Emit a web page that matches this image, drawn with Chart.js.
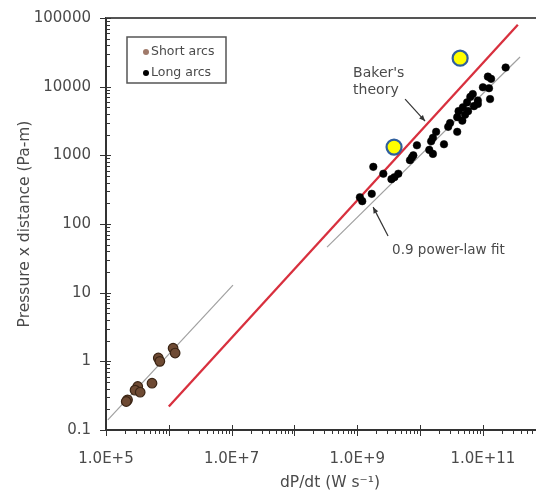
<!DOCTYPE html>
<html><head><meta charset="utf-8">
<script src="https://cdn.jsdelivr.net/npm/chart.js@4.4.0/dist/chart.umd.min.js"></script>
<style>html,body{margin:0;padding:0;background:#fff}</style>
</head><body>
<canvas id="c" width="536" height="493"></canvas>
<script>
// ---- data ----
const longX = [2.3e11,1.2e11,1.35e11,1.0e11,1.25e11,1.3e11,6.9e10,6.3e10,5.6e10,7.2e10,4.8e10,4.1e10,5.8e10,5.2e10,3.9e10,3.0e10,2.8e10,3.9e10,1.8e10,1.6e10,1.5e10,1.4e10,1.6e10,2.4e10,8.9e9,7.8e9,6.9e9,4.5e9,3.9e9,3.5e9,2.6e9,1.8e9,1.1e9,1.2e9,1.7e9,4.7e10,8.3e10,7.4e9,8.3e10];
const longY = [19000,14000,13000,9800,9500,6600,7800,7100,5900,5200,5000,4400,4400,3900,3600,2950,2600,2200,2200,1800,1600,1200,1050,1450,1400,1000,850,540,480,450,540,680,245,215,275,3200,6300,930,5600];
const shortX = [1.17e6,1.26e6,6.8e5,7.2e5,5.4e5,3.2e5,2.9e5,3.5e5,2.2e5,2.1e5];
const shortY = [1.55,1.32,1.12,1.0,0.48,0.43,0.38,0.355,0.275,0.26];
const highlightX = [3.85e9,4.34e10];
const highlightY = [1318,26000];
const bakerX = [1e6,3.6e11];
const bakerY = [0.22,80000];
const shortFitX = [1.07e5,1.05e7];
const shortFitY = [0.14,12.9];
const longFitX = [3.3e8,3.9e11];
const longFitY = [46,27000];
const xTickValues = [1e5,1e7,1e9,1e11];
const xTickLabels = ['1.0E+5','1.0E+7','1.0E+9','1.0E+11'];
const yTickValues = [0.1,1,10,100,1000,10000,100000];
const yTickLabels = ['0.1','1','10','100','1000','10000','100000'];
const legendLabels = ['Short arcs','Long arcs'];
const xTitle = 'dP/dt (W s\u207B\u00B9)';
const yTitle = 'Pressure x distance (Pa-m)';
// annotation anchors in data units: [tailX, tailY, tipX, tipY]
const bakerArrow = [5.77e9, 6580, 1.2e10, 3150];
const fitArrow = [3.09e9, 66.7, 1.79e9, 176];

const pts = (xs, ys) => xs.map((v, i) => ({x: v, y: ys[i]}));
const FONT = "'DejaVu Sans', Verdana, sans-serif";
const TXT = '#4a4a4a';

function arrow(ctx, x1, y1, x2, y2) {
  ctx.beginPath(); ctx.moveTo(x1, y1); ctx.lineTo(x2, y2); ctx.stroke();
  const ang = Math.atan2(y2 - y1, x2 - x1), L = 6, W = 2.6;
  ctx.beginPath();
  ctx.moveTo(x2, y2);
  ctx.lineTo(x2 - L*Math.cos(ang) + W*Math.sin(ang), y2 - L*Math.sin(ang) - W*Math.cos(ang));
  ctx.lineTo(x2 - L*Math.cos(ang) - W*Math.sin(ang), y2 - L*Math.sin(ang) + W*Math.cos(ang));
  ctx.closePath(); ctx.fill();
}

const decor = {
  id: 'decor',
  afterDraw(chart) {
    const {ctx, chartArea: a, scales: {x, y}} = chart;
    ctx.save();
    // top frame
    ctx.strokeStyle = '#555'; ctx.lineWidth = 2;
    ctx.beginPath(); ctx.moveTo(a.left, a.top); ctx.lineTo(a.right, a.top); ctx.stroke();
    // tick marks
    ctx.strokeStyle = '#333'; ctx.lineWidth = 1;
    for (let e = -1; e <= 5; e++) for (let k = 1; k <= 9; k++) {
      const v = k * Math.pow(10, e);
      if (v < y.min * 0.999 || v > y.max * 1.001) continue;
      const py = Math.round(y.getPixelForValue(v)) + 0.5;
      ctx.beginPath();
      if (k === 1) { ctx.moveTo(a.left - 6, py); ctx.lineTo(a.left + 5, py); }
      else { ctx.moveTo(a.left, py); ctx.lineTo(a.left + 4, py); }
      ctx.stroke();
    }
    for (let e = 5; e <= 11; e++) for (let k = 1; k <= 9; k++) {
      const v = k * Math.pow(10, e);
      if (v < x.min * 0.999 || v > x.max * 1.001) continue;
      const px = Math.round(x.getPixelForValue(v)) + 0.5;
      ctx.beginPath();
      if (k === 1) { ctx.moveTo(px, a.bottom - 5); ctx.lineTo(px, a.bottom + 6); }
      else { ctx.moveTo(px, a.bottom); ctx.lineTo(px, a.bottom + 4); }
      ctx.stroke();
    }
    // x title
    ctx.fillStyle = TXT; ctx.font = '15.5px ' + FONT;
    ctx.textAlign = 'center'; ctx.textBaseline = 'middle';
    ctx.fillText(xTitle, 330, 483);
    // legend
    const lx = a.left + 21, ly = a.top + 19;
    ctx.strokeStyle = '#555'; ctx.lineWidth = 1.5;
    ctx.strokeRect(lx, ly, 99, 46);
    ctx.font = '12.5px ' + FONT; ctx.textAlign = 'left';
    [15, 36].forEach((dy, i) => {
      ctx.fillStyle = i === 0 ? '#a07a6a' : '#000';
      ctx.beginPath(); ctx.arc(lx + 19, ly + dy, 3, 0, Math.PI*2); ctx.fill();
      ctx.fillStyle = TXT;
      ctx.fillText(legendLabels[i], lx + 24, ly + dy);
    });
    // annotations
    ctx.strokeStyle = '#333'; ctx.fillStyle = '#333'; ctx.lineWidth = 1.2;
    const t1x = x.getPixelForValue(bakerArrow[0]), t1y = y.getPixelForValue(bakerArrow[1]);
    arrow(ctx, t1x, t1y, x.getPixelForValue(bakerArrow[2]), y.getPixelForValue(bakerArrow[3]));
    const t2x = x.getPixelForValue(fitArrow[0]), t2y = y.getPixelForValue(fitArrow[1]);
    arrow(ctx, t2x, t2y, x.getPixelForValue(fitArrow[2]), y.getPixelForValue(fitArrow[3]));
    ctx.fillStyle = TXT; ctx.font = '14px ' + FONT; ctx.textAlign = 'left';
    ctx.fillText("Baker's", t1x - 52, t1y - 26);
    ctx.fillText('theory', t1x - 52, t1y - 9);
    ctx.font = '13.5px ' + FONT;
    ctx.fillText('0.9 power-law fit', t2x + 4, t2y + 14);
    ctx.restore();
  }
};

new Chart(document.getElementById('c'), {
  type: 'scatter',
  data: {
    datasets: [
      {label: 'highlight', data: pts(highlightX, highlightY), pointRadius: 7.5, pointHoverRadius: 7.5,
       backgroundColor: '#ffff00', borderColor: '#2f5f9e', borderWidth: 2.2},
      {label: legendLabels[1], data: pts(longX, longY), pointRadius: 3.8, pointHoverRadius: 3.8,
       backgroundColor: '#000', borderColor: '#000', borderWidth: 0.5},
      {label: legendLabels[0], data: pts(shortX, shortY), pointRadius: 4.8, pointHoverRadius: 4.8,
       backgroundColor: '#6e4a33', borderColor: '#3a2414', borderWidth: 1.2},
      {label: "Baker's theory", data: pts(bakerX, bakerY), showLine: true, pointRadius: 0,
       borderColor: '#d8303e', borderWidth: 2.3},
      {label: 'short fit', data: pts(shortFitX, shortFitY), showLine: true, pointRadius: 0,
       borderColor: '#a0a0a0', borderWidth: 1.2},
      {label: '0.9 power-law fit', data: pts(longFitX, longFitY), showLine: true, pointRadius: 0,
       borderColor: '#a0a0a0', borderWidth: 1.2}
    ]
  },
  options: {
    responsive: false, animation: false, devicePixelRatio: 1,
    layout: {autoPadding: false, padding: {top: 18, right: 0, left: 0, bottom: 0}},
    plugins: {legend: {display: false}, tooltip: {enabled: false}},
    scales: {
      x: {
        type: 'logarithmic', min: 1e5, max: 7e11,
        afterBuildTicks: s => { s.ticks = xTickValues.map(v => ({value: v, major: true})); },
        afterFit: s => { s.height = 63; s.paddingLeft = 0; s.paddingRight = 0; },
        grid: {display: false, drawTicks: false},
        border: {display: true, color: '#333', width: 2},
        ticks: {autoSkip: false, maxRotation: 0, padding: 20, color: TXT, font: {family: FONT, size: 15},
          callback: v => { const i = xTickValues.findIndex(t => Math.abs(t - v) / t < 1e-6); return i >= 0 ? xTickLabels[i] : ''; }}
      },
      y: {
        type: 'logarithmic', min: 0.1, max: 1e5,
        afterBuildTicks: s => { s.ticks = yTickValues.map(v => ({value: v, major: true})); },
        afterFit: s => { s.width = 106; s.paddingTop = 0; s.paddingBottom = 0; },
        grid: {display: false, drawTicks: false},
        border: {display: true, color: '#333', width: 2},
        title: {display: true, text: yTitle, color: TXT, font: {family: FONT, size: 15.5}, padding: {top: 16, bottom: 0}},
        ticks: {autoSkip: false, padding: 15, color: TXT, font: {family: FONT, size: 15},
          callback: v => { const i = yTickValues.findIndex(t => Math.abs(t - v) / t < 1e-6); return i >= 0 ? yTickLabels[i] : ''; }}
      }
    }
  },
  plugins: [decor]
});
</script>
</body></html>
